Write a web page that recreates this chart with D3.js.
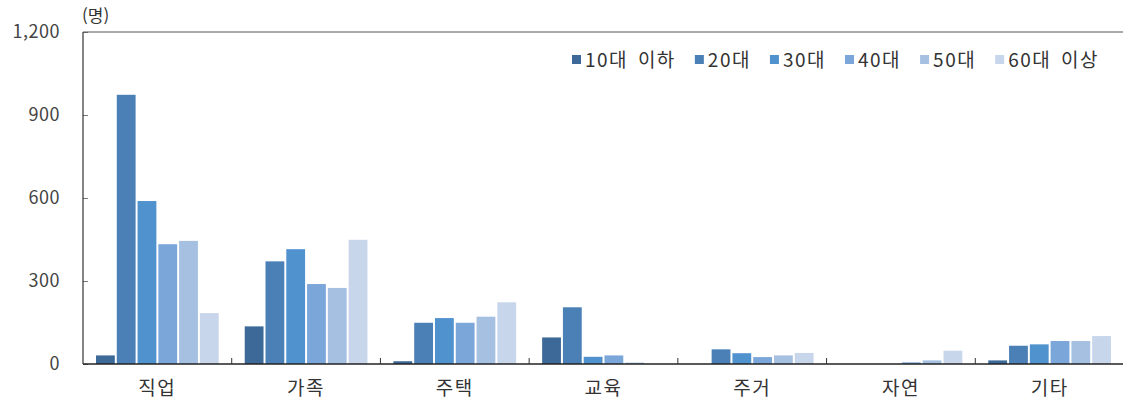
<!DOCTYPE html>
<html lang="ko">
<head>
<meta charset="utf-8">
<script src="https://cdn.jsdelivr.net/npm/d3@7/dist/d3.min.js"></script>
<style>
  html, body { margin: 0; padding: 0; background: #fff; }
  svg { display: block; font-family: "Noto Sans CJK KR", "Noto Sans", sans-serif; }
</style>
</head>
<body>
<svg id="chart" width="1123" height="401"></svg>
<script>
// Purpose categories and age groups
const categories = ["직업", "가족", "주택", "교육", "주거", "자연", "기타"];
const ageGroups = ["10대 이하", "20대", "30대", "40대", "50대", "60대 이상"];

// Number of people per category, one array per age group (order follows categories)
const teens    = [31, 136, 10, 96, 0, 0, 13];
const twenties = [973, 371, 149, 205, 53, 0, 66];
const thirties = [589, 415, 166, 26, 39, 0, 71];
const forties  = [433, 289, 149, 31, 25, 6, 83];
const fifties  = [445, 275, 171, 5, 31, 13, 83];
const sixties  = [184, 449, 223, 0, 40, 48, 101];

const yTicks = [0, 300, 600, 900, 1200];
const yUnit = "(명)";

const seriesValues = [teens, twenties, thirties, forties, fifties, sixties];
const colors = ["#3c6997", "#4a80b6", "#5092ce", "#7ba6d9", "#a6c0e1", "#c7d6eb"];

const svg = d3.select("#chart");
const plotLeft = 83, plotRight = 1124, plotTop = 32, plotBottom = 364;

const x = d3.scaleBand().domain(categories).range([plotLeft, plotRight]).paddingInner(0).paddingOuter(0);
const groupPad = 13;
const x1 = d3.scaleBand().domain(ageGroups)
  .range([groupPad, x.bandwidth() - groupPad]).paddingInner(0.095).paddingOuter(0);
const y = d3.scaleLinear().domain([0, 1200]).range([plotBottom, plotTop]);

// Bars
const rows = categories.map((c, i) => ({
  cat: c,
  vals: ageGroups.map((g, j) => ({ group: g, value: seriesValues[j][i], color: colors[j] }))
}));

const groups = svg.append("g").selectAll("g").data(rows).join("g")
  .attr("transform", d => `translate(${x(d.cat)},0)`);
groups.selectAll("rect").data(d => d.vals).join("rect")
  .attr("x", d => x1(d.group))
  .attr("width", x1.bandwidth())
  .attr("y", d => y(d.value))
  .attr("height", d => plotBottom - y(d.value))
  .attr("fill", d => d.color);

// Y axis: ticks point into the plot
const yAxis = d3.axisRight(y).tickValues(yTicks).tickSize(5)
  .tickFormat(d3.format(","));
const yG = svg.append("g").attr("transform", `translate(${plotLeft},0)`).call(yAxis);
yG.select(".domain").remove();
yG.selectAll(".tick line").attr("stroke", "#777");
yG.selectAll(".tick text")
  .attr("x", -23).attr("text-anchor", "end")
  .attr("fill", "#444").attr("font-size", 18)
  .attr("letter-spacing", 0.5)
  .attr("font-family", "'Noto Sans CJK KR', sans-serif");

// Frame lines (left, top)
svg.append("line").attr("x1", plotLeft).attr("x2", plotLeft).attr("y1", plotTop).attr("y2", plotBottom)
  .attr("stroke", "#333").attr("stroke-width", 1.2);
svg.append("line").attr("x1", plotLeft).attr("x2", plotRight).attr("y1", plotTop).attr("y2", plotTop)
  .attr("stroke", "#555").attr("stroke-width", 1);

// X axis with category boundary ticks pointing upward
const xG = svg.append("g").attr("transform", `translate(0,${plotBottom})`);
xG.append("line").attr("x1", plotLeft).attr("x2", plotRight).attr("y1", 0).attr("y2", 0)
  .attr("stroke", "#222").attr("stroke-width", 1.5);
xG.selectAll("line.sep").data(categories.slice(1)).join("line")
  .attr("class", "sep")
  .attr("x1", d => x(d)).attr("x2", d => x(d))
  .attr("y1", 0).attr("y2", -6)
  .attr("stroke", "#333");
xG.selectAll("text").data(categories).join("text")
  .attr("x", d => x(d) + x.bandwidth() / 2)
  .attr("y", 31)
  .attr("text-anchor", "middle")
  .attr("font-size", 19)
  .attr("letter-spacing", 1.5)
  .attr("fill", "#333")
  .text(d => d);

// Unit label
svg.append("text").attr("x", 82).attr("y", 22)
  .attr("font-size", 17).attr("fill", "#333").text(yUnit);

// Legend
const legend = svg.append("g").attr("transform", "translate(572,61)");
let cx = 0;
ageGroups.forEach((g, i) => {
  legend.append("rect").attr("x", cx).attr("y", -6).attr("width", 9).attr("height", 9)
    .attr("fill", colors[i]);
  const t = legend.append("text").attr("x", cx + 13).attr("y", 6)
    .attr("font-size", 19).attr("letter-spacing", 1.5).attr("word-spacing", 3)
    .attr("fill", "#333").text(g);
  cx += 13 + t.node().getComputedTextLength() + 19;
});
</script>
</body>
</html>
